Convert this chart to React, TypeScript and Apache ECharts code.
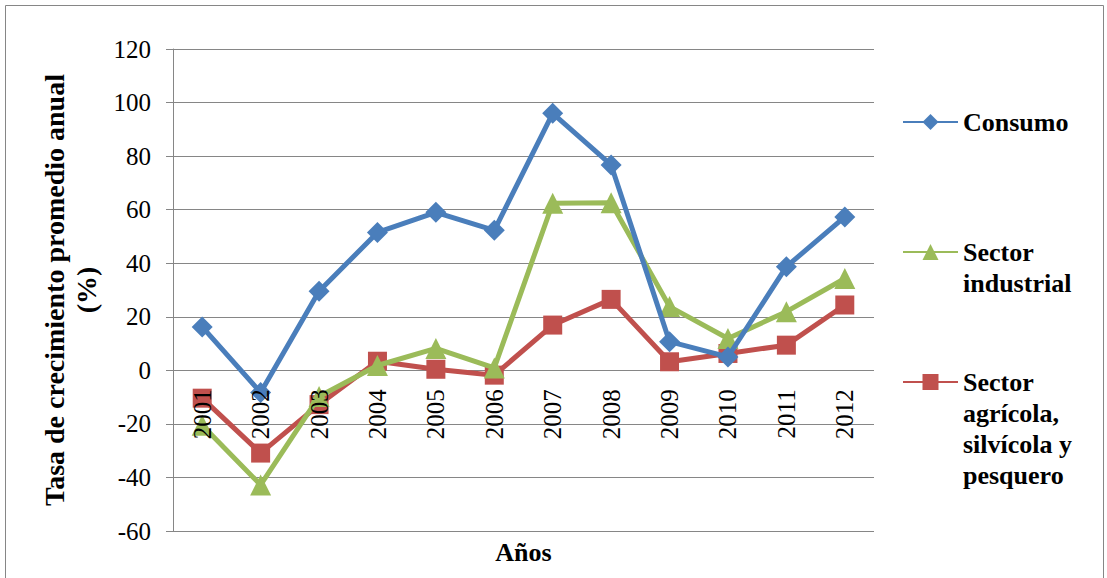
import React, { useEffect, useRef } from "react";
import * as echarts from "echarts";

const years = ["2001", "2002", "2003", "2004", "2005", "2006", "2007", "2008", "2009", "2010", "2011", "2012"];
const consumo = [16.2, -8.3, 29.5, 51.5, 59, 52.3, 96, 76.7, 10.7, 5, 38.7, 57.3];
const industrial = [-20.5, -42.8, -9.8, 1.8, 8.2, 0.9, 62.4, 62.6, 23.8, 11.9, 21.9, 34.3];
const agricola = [-10.4, -30.9, -12.8, 3.4, 0.4, -1.8, 16.9, 26.5, 3.2, 6.3, 9.4, 24.4];

const seriesNames = ["Consumo", "Sector industrial", "Sector agrícola, silvícola y pesquero"];
const legendLabels = ["Consumo", "Sector\nindustrial", "Sector\nagrícola,\nsilvícola y\npesquero"];
const yTicks = { min: -60, max: 120, interval: 20 };

const FONT = "Liberation Serif";
const GREY = "#868686";
const colors = ["#4A7EBB", "#9BBB59", "#C0504D"];

export default function App() {
  const ref = useRef<HTMLDivElement>(null);
  useEffect(() => {
    document.body.style.margin = "0";
    if (!ref.current) return;
    const chart = echarts.init(ref.current, undefined, { renderer: "svg" });
    const LH = 31;
    const gridTop = 49;
    const gridBottom = 47;
    const plotH = 578 - gridTop - gridBottom;
    // distance of the zero line above the bottom of the plot, from the axis range
    const zeroOffset = (plotH * (0 - yTicks.min)) / (yTicks.max - yTicks.min);
    const mkLegend = (i: number, top: number) => {
      const lines = legendLabels[i].split("\n").length;
      return {
        show: true,
        data: [seriesNames[i]],
        left: 902,
        top,
        padding: 0,
        itemGap: 0,
        itemWidth: 55,
        itemHeight: 20,
        formatter: () => "\n".repeat(lines - 1) + legendLabels[i],
        textStyle: {
          fontFamily: FONT,
          fontSize: 26,
          fontWeight: "bold",
          color: "#000",
          lineHeight: LH,
        },
      };
    };
    const data = [consumo, industrial, agricola];
    const symbols = ["diamond", "triangle", "rect"];
    const sizes = [21, 21, 19];
    chart.setOption({
      animation: false,
      backgroundColor: "#fff",
      textStyle: { fontFamily: FONT },
      grid: { left: 173, right: 233, top: gridTop, bottom: gridBottom, containLabel: false, outerBoundsMode: "none" },
      legend: [mkLegend(0, 106.5), mkLegend(1, 205.5), mkLegend(2, 273.5)],
      graphic: [
        {
          type: "rect",
          shape: { x: 5.5, y: 5.5, width: 1098, height: 600 },
          style: { fill: "none", stroke: GREY, lineWidth: 1 },
          silent: true,
        },
      ],
      xAxis: {
        type: "category",
        data: years,
        boundaryGap: true,
        offset: -zeroOffset,
        z: 10,
        axisLine: { show: false, onZero: false, lineStyle: { color: GREY, width: 1 } },
        axisTick: { show: false },
        axisLabel: { rotate: 90, fontSize: 25, fontFamily: FONT, color: "#000", margin: 19, interval: 0 },
        name: "Años",
        nameLocation: "middle",
        nameGap: zeroOffset + 8,
        nameTextStyle: { fontFamily: FONT, fontSize: 26, fontWeight: "bold", color: "#000" },
      },
      yAxis: {
        type: "value",
        min: yTicks.min,
        max: yTicks.max,
        interval: yTicks.interval,
        axisLine: { show: true, lineStyle: { color: GREY, width: 1 } },
        axisTick: { show: true, length: 7, lineStyle: { color: GREY } },
        splitLine: { show: true, lineStyle: { color: GREY, width: 1 } },
        axisLabel: { fontSize: 25, fontFamily: FONT, color: "#000", margin: 22 },
        name: "Tasa de crecimiento promedio anual\n(%)",
        nameLocation: "middle",
        nameRotate: 90,
        nameGap: 68,
        nameTextStyle: { fontFamily: FONT, fontSize: 28, fontWeight: "bold", color: "#000", lineHeight: 32 },
      },
      series: data.map((d, i) => ({
        name: seriesNames[i],
        type: "line",
        data: d,
        symbol: symbols[i],
        symbolSize: sizes[i],
        lineStyle: { color: colors[i], width: 5 },
        itemStyle: { color: colors[i] },
        z: 3 - i,
      })),
    });
    return () => chart.dispose();
  }, []);
  return <div ref={ref} style={{ width: 1107, height: 578 }} />;
}
